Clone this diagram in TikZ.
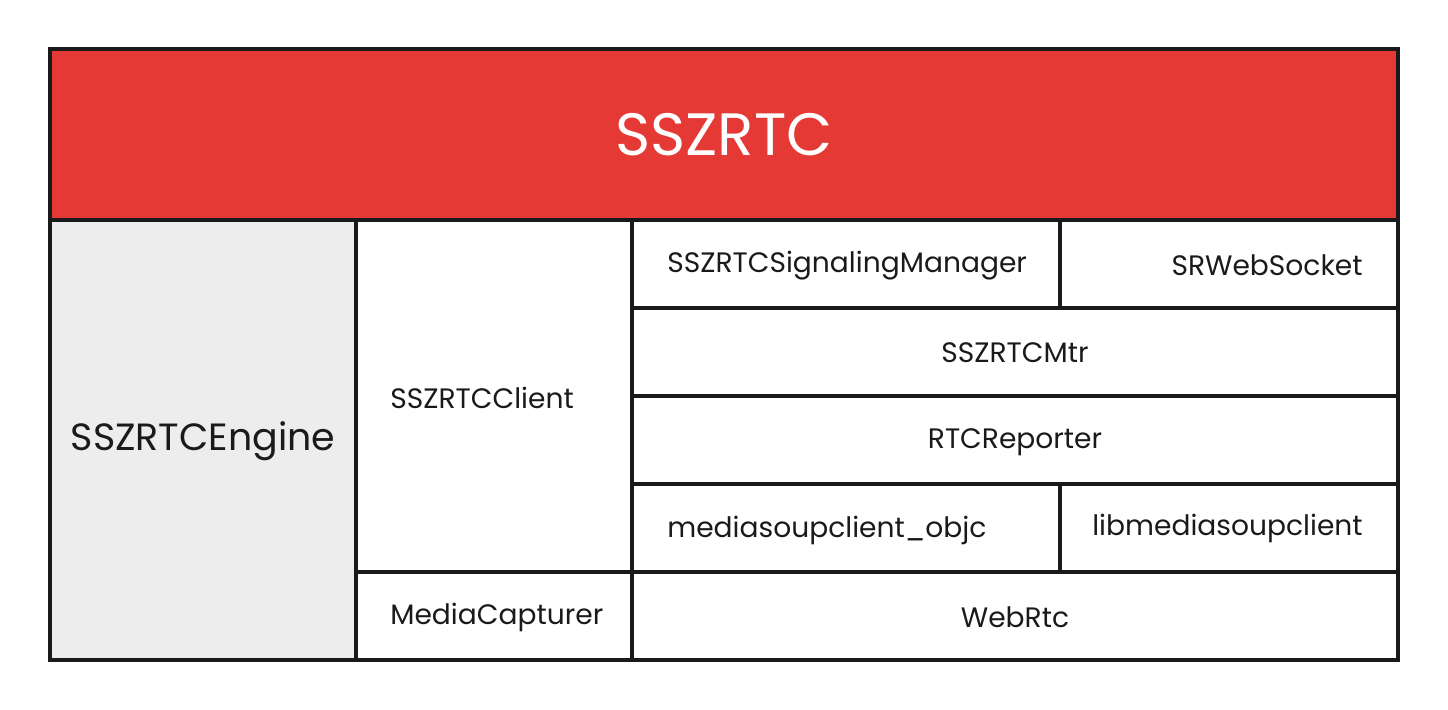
\documentclass[tikz,border=0pt]{standalone}
\usepackage{fontspec}
\setmainfont{Poppins}
\usepackage{tikz}

\definecolor{titlered}{HTML}{E53935}
\definecolor{enginegray}{HTML}{EDEDED}
\definecolor{linedark}{HTML}{1A1A1A}

\tikzset{
  cellbox/.style={draw=linedark,line width=2pt},
  celltext/.style={text=linedark,inner sep=0pt,font=\fontsize{16}{19}\selectfont},
}

\begin{document}
\begin{tikzpicture}[x=0.02cm,y=-0.02cm]
\useasboundingbox (0,0) rectangle (1448,710);
% title bar
\draw[cellbox,fill=titlered] (50,49) rectangle (1398,220);
\node[text=white,font=\fontsize{34}{40}\selectfont] (sszrtc) at (724,135) {SSZRTC};
% left column
\draw[cellbox,fill=enginegray] (50,220) rectangle (356,660);
\node[celltext,font=\fontsize{21.6}{26}\selectfont] (engine) at (203,441) {SSZRTCEngine};
\draw[cellbox] (356,220) rectangle (632,572);
\node[celltext,anchor=west] (client) at (390,398) {SSZRTCClient};
\draw[cellbox] (356,572) rectangle (632,660);
\node[celltext,anchor=west] (capturer) at (390,617) {MediaCapturer};
% right rows
\draw[cellbox] (632,220) rectangle (1060,308);
\node[celltext,anchor=west] (signaling) at (667,266) {SSZRTCSignalingManager};
\draw[cellbox] (1060,220) rectangle (1398,308);
\node[celltext,anchor=east] (websocket) at (1363,265) {SRWebSocket};
\draw[cellbox] (632,308) rectangle (1398,396);
\node[celltext] (mtr) at (1015,353) {SSZRTCMtr};
\draw[cellbox] (632,396) rectangle (1398,484);
\node[celltext] (reporter) at (1015,442) {RTCReporter};
\draw[cellbox] (632,484) rectangle (1060,572);
\node[celltext,anchor=west] (objc) at (667,530) {mediasoupclient\_objc};
\draw[cellbox] (1060,484) rectangle (1398,572);
\node[celltext,anchor=east] (libms) at (1363,528) {libmediasoupclient};
\draw[cellbox] (632,572) rectangle (1398,660);
\node[celltext] (webrtc) at (1015,617) {WebRtc};
\end{tikzpicture}
\end{document}
